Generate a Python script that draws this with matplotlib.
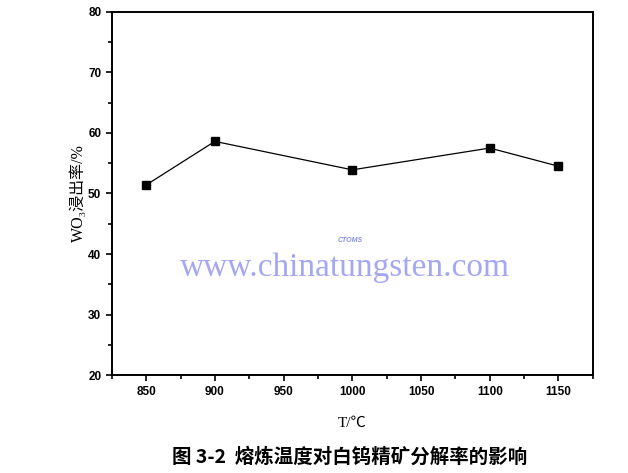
import matplotlib.pyplot as plt
from matplotlib.ticker import MultipleLocator

plt.rcParams["font.family"] = ["Liberation Sans", "Noto Sans CJK SC", "DejaVu Sans"]

temps = [850, 900, 1000, 1100, 1150]
leach_rate = [51.4, 58.6, 53.9, 57.5, 54.5]

xticks = [850, 900, 950, 1000, 1050, 1100, 1150]
yticks = [20, 30, 40, 50, 60, 70, 80]

fig = plt.figure(figsize=(6.28, 4.73), dpi=100)
ax = fig.add_axes([0.178, 0.207, 0.766, 0.768])

ax.plot(temps, leach_rate, color="black", lw=0.9, marker="s", ms=5.5,
        markerfacecolor="black", markeredgecolor="black", zorder=3)

ax.set_xlim(825, 1175)
ax.set_ylim(20, 80)
ax.set_xticks(xticks)
ax.set_yticks(yticks)
ax.xaxis.set_minor_locator(MultipleLocator(25))
ax.yaxis.set_minor_locator(MultipleLocator(5))
ax.tick_params(which="both", direction="out", top=False, right=False,
               labelsize=8.5, width=1.2)
ax.tick_params(which="major", length=4)
ax.tick_params(which="minor", length=3)
for lab in ax.get_xticklabels() + ax.get_yticklabels():
    lab.set_fontweight("bold")
for s in ax.spines.values():
    s.set_linewidth(1.4)

serif_cjk = ["Liberation Serif", "Noto Sans CJK SC", "DejaVu Sans"]
ax.set_xlabel("T/℃", fontsize=11, family=serif_cjk, labelpad=14)
ax.set_ylabel("WO₃浸出率/%", fontsize=11.5, family=serif_cjk, labelpad=1)

# watermark
fig.text(0.55, 0.433, "www.chinatungsten.com", fontsize=24, color="#a4a8f0",
         family="Liberation Serif", ha="center", va="center", zorder=0)
fig.text(0.557, 0.492, "CTOMS", fontsize=5, color="#8890e8", style="italic",
         weight="bold", ha="center", va="center")

fig.text(0.557, 0.033, "图 3-2  熔炼温度对白钨精矿分解率的影响", fontsize=14,
         weight="bold", ha="center", va="center", family=["Noto Sans CJK SC", "DejaVu Sans"])

fig.savefig("out.png", dpi=100)
